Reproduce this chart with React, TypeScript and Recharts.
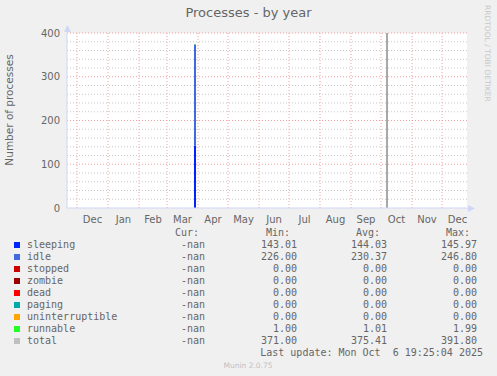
import React from 'react';
import { ComposedChart, Bar, XAxis, YAxis, CartesianGrid, ReferenceLine } from 'recharts';

// day numbers counted from 2024-11-21 (left edge of the plot)
const sampleDays = [128, 320];
const sleeping = [143, null];
const idle = [231, null];
const runnable = [1, null];
const total = [null, 400];

// first day of each month, last entry closes the final Dec
const monthStarts = [10, 41, 72, 100, 131, 161, 192, 222, 253, 284, 314, 345, 375, 406];
const monthLabels = ['Dec', 'Jan', 'Feb', 'Mar', 'Apr', 'May', 'Jun', 'Jul', 'Aug', 'Sep', 'Oct', 'Nov', 'Dec'];

const yTicks = [0, 100, 200, 300, 400];
const minorTicks = [20, 40, 60, 80, 120, 140, 160, 180, 220, 240, 260, 280, 320, 340, 360, 380];

// legend table
const seriesNames = ['sleeping', 'idle', 'stopped', 'zombie', 'dead', 'paging', 'uninterruptible', 'runnable', 'total'];
const seriesColors = ['#0022ff', '#4169e1', '#cc0000', '#990000', '#ff0000', '#00aaaa', '#ffa500', '#22ff22', '#c0c0c0'];
const curValues = ['-nan', '-nan', '-nan', '-nan', '-nan', '-nan', '-nan', '-nan', '-nan'];
const minValues = ['143.01', '226.00', '0.00', '0.00', '0.00', '0.00', '0.00', '1.00', '371.00'];
const avgValues = ['144.03', '230.37', '0.00', '0.00', '0.00', '0.00', '0.00', '1.01', '375.41'];
const maxValues = ['145.97', '246.80', '0.00', '0.00', '0.00', '0.00', '0.00', '1.99', '391.80'];

const data = sampleDays.map((day, i) => ({
  day,
  sleeping: sleeping[i],
  idle: idle[i],
  runnable: runnable[i],
  total: total[i],
}));

const monthMids = monthLabels.map((_, i) => (monthStarts[i] + monthStarts[i + 1]) / 2);

const FONT = '"DejaVu Sans", sans-serif';
const MONO = '"DejaVu Sans Mono", monospace';
const TEXT = '#666666';
const AXIS = '#CFD6F8';

const rowTop = (i: number) => 238.5 + i * 12;

const cell = (text: string, right: number, top: number, key: string) => (
  <div
    key={key}
    style={{ position: 'absolute', top, left: 0, width: right, textAlign: 'right', whiteSpace: 'pre', lineHeight: '12px' }}
  >
    {text}
  </div>
);

export default function App() {
  return (
    <div style={{ position: 'absolute', left: 0, top: 0, width: 497, height: 376, background: '#f0f0f0', fontFamily: FONT, color: TEXT, overflow: 'hidden' }}>
      <div style={{ position: 'absolute', top: 5, left: 0, width: 497, textAlign: 'center', fontSize: 13 }}>
        Processes - by year
      </div>

      <ComposedChart
        width={497}
        height={232}
        data={data}
        margin={{ top: 33, right: 30, bottom: 0, left: 0 }}
        style={{ position: 'absolute', left: 0, top: 0 }}
      >
        <CartesianGrid fill="#ffffff" horizontal={false} vertical={false} />
        {minorTicks.map((v) => (
          <ReferenceLine key={`m${v}`} y={v} stroke="#c8c8c8" strokeDasharray="1 2" />
        ))}
        {yTicks.slice(1).map((v) => (
          <ReferenceLine key={`y${v}`} y={v} stroke="#f0a0a0" strokeDasharray="1 2" />
        ))}
        {monthStarts.slice(0, 13).map((d) => (
          <ReferenceLine key={`x${d}`} x={d} stroke="#f0a0a0" strokeDasharray="1 2" />
        ))}
        <XAxis
          type="number"
          dataKey="day"
          domain={[0, 400]}
          allowDataOverflow
          ticks={monthMids}
          interval={0}
          tickFormatter={(_v, i) => monthLabels[i]}
          tickLine={false}
          tickSize={5}
          tickMargin={3}
          height={24}
          axisLine={{ stroke: AXIS }}
          tick={{ fill: TEXT, fontSize: 10, fontFamily: FONT }}
        />
        <YAxis
          type="number"
          domain={[0, 400]}
          ticks={yTicks}
          interval={0}
          width={67}
          tickLine={false}
          tickSize={5}
          tickMargin={2}
          axisLine={{ stroke: AXIS }}
          tick={{ fill: TEXT, fontSize: 10, fontFamily: FONT }}
        />
        <Bar dataKey="sleeping" stackId="a" fill={seriesColors[0]} barSize={2} isAnimationActive={false} />
        <Bar dataKey="idle" stackId="a" fill={seriesColors[1]} barSize={2} isAnimationActive={false} />
        <Bar dataKey="runnable" stackId="a" fill={seriesColors[7]} barSize={2} isAnimationActive={false} />
        <Bar dataKey="total" stackId="a" fill="#a8a8a8" barSize={2} isAnimationActive={false} />
      </ComposedChart>

      <svg width={497} height={376} style={{ position: 'absolute', left: 0, top: 0, pointerEvents: 'none' }}>
        <line x1={67.5} y1={27} x2={67.5} y2={33} stroke={AXIS} />
        <polygon points="67.5,25 64,32 71,32" fill={AXIS} />
        <line x1={467} y1={208.5} x2={471} y2={208.5} stroke={AXIS} />
        <polygon points="475,208.5 468,205 468,212" fill={AXIS} />
        <text
          x={9}
          y={110}
          transform="rotate(-90 9 110)"
          textAnchor="middle"
          dominantBaseline="central"
          fontSize={10.5}
          fontFamily={FONT}
          fill={TEXT}
        >
          Number of processes
        </text>
        <text
          x={485}
          y={5}
          transform="rotate(90 485 5)"
          fontSize={7.5}
          fontFamily={FONT}
          fill="#c8c8c8"
        >
          RRDTOOL / TOBI OETIKER
        </text>
        <text x={248} y={368} textAnchor="middle" fontSize={7.5} fontFamily={FONT} fill="#c0c0c0">
          Munin 2.0.75
        </text>
      </svg>

      <div style={{ position: 'absolute', left: 0, top: 0, width: 497, fontFamily: MONO, fontSize: 10 }}>
        {cell('Cur:', 199, rowTop(-1), 'hc')}
        {cell('Min:', 290, rowTop(-1), 'hn')}
        {cell('Avg:', 380, rowTop(-1), 'ha')}
        {cell('Max:', 470, rowTop(-1), 'hx')}
        {seriesNames.map((name, i) => (
          <React.Fragment key={name}>
            <div style={{ position: 'absolute', left: 14, top: rowTop(i) + 3.5, width: 6, height: 6, background: seriesColors[i] }} />
            <div style={{ position: 'absolute', left: 27, top: rowTop(i), lineHeight: '12px', whiteSpace: 'pre' }}>{name}</div>
            {cell(curValues[i], 205, rowTop(i), `c${i}`)}
            {cell(minValues[i], 297, rowTop(i), `n${i}`)}
            {cell(avgValues[i], 387, rowTop(i), `a${i}`)}
            {cell(maxValues[i], 477, rowTop(i), `x${i}`)}
          </React.Fragment>
        ))}
        {cell('Last update: Mon Oct  6 19:25:04 2025', 483, rowTop(9), 'lu')}
      </div>
    </div>
  );
}
